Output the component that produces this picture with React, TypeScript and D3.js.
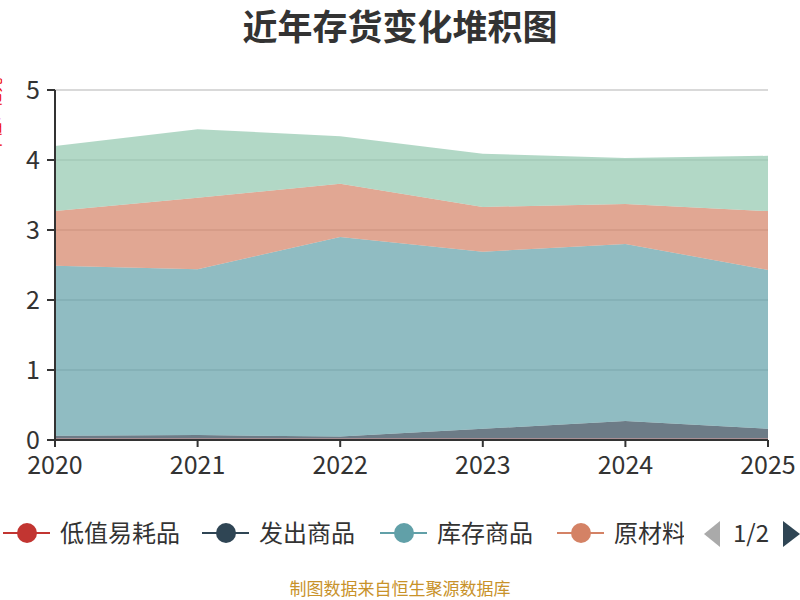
import { useEffect, useRef } from "react";
import * as d3 from "d3";

// years on the x axis
const years = ["2020", "2021", "2022", "2023", "2024", "2025"];

// series, bottom to top of the stack (亿元)
const diZhi = [0.02, 0.02, 0.02, 0.02, 0.02, 0.02];
const faChu = [0.04, 0.05, 0.03, 0.14, 0.25, 0.14];
const kuCun = [2.43, 2.37, 2.85, 2.53, 2.53, 2.27];
const yuanCai = [0.78, 1.02, 0.76, 0.64, 0.57, 0.84];
const zaiChan = [0.93, 0.98, 0.68, 0.76, 0.66, 0.79];

const seriesNames = ["低值易耗品", "发出商品", "库存商品", "原材料", "在产品"];
const seriesColors = ["#c23531", "#2f4554", "#61a0a8", "#d48265", "#91c7ae"];
const yTicks = [0, 1, 2, 3, 4, 5];

const FONT = "'Noto Sans CJK SC', 'Noto Sans', sans-serif";

const App = () => {
    const svgRef = useRef(null);

    useEffect(() => {
        if (!svgRef.current) return;
        const svg = d3.select(svgRef.current);
        svg.selectAll("*").remove();

        const left = 55, right = 768, top = 90, bottom = 440;
        const x = d3.scalePoint(years, [left, right]);
        const y = d3.scaleLinear([0, 5], [bottom, top]);

        const rows = years.map((yr, i) => ({
            year: yr,
            s0: diZhi[i], s1: faChu[i], s2: kuCun[i], s3: yuanCai[i], s4: zaiChan[i]
        }));
        const stacked = d3.stack().keys(["s0", "s1", "s2", "s3", "s4"])(rows);

        // title
        svg.append("text")
            .attr("x", 400).attr("y", 40)
            .attr("text-anchor", "middle")
            .style("font-family", FONT)
            .style("font-size", "35px")
            .style("font-weight", "bold")
            .attr("fill", "#333")
            .text("近年存货变化堆积图");

        // y axis name, mostly off the left edge
        svg.append("text")
            .attr("transform", "translate(0,115) rotate(-90)")
            .attr("text-anchor", "middle")
            .style("font-family", FONT)
            .style("font-size", "15px")
            .attr("fill", "#e00")
            .text("单位：亿元");

        // grid
        svg.append("g")
            .selectAll("line")
            .data(yTicks.slice(1))
            .join("line")
            .attr("x1", left).attr("x2", right)
            .attr("y1", d => y(d)).attr("y2", d => y(d))
            .attr("stroke", "#ccc")
            .attr("stroke-width", 1.5);

        // areas
        const area = d3.area()
            .x(d => x(d.data.year))
            .y0(d => y(d[0]))
            .y1(d => y(d[1]));
        svg.append("g")
            .selectAll("path")
            .data(stacked)
            .join("path")
            .attr("d", area)
            .attr("fill", (d, i) => seriesColors[i])
            .attr("fill-opacity", 0.7);

        // y axis
        svg.append("line")
            .attr("x1", left).attr("x2", left)
            .attr("y1", top).attr("y2", bottom)
            .attr("stroke", "#333").attr("stroke-width", 2);
        const yg = svg.append("g");
        yg.selectAll("line")
            .data(yTicks)
            .join("line")
            .attr("x1", left - 8).attr("x2", left)
            .attr("y1", d => y(d)).attr("y2", d => y(d))
            .attr("stroke", "#333").attr("stroke-width", 2);
        yg.selectAll("text")
            .data(yTicks)
            .join("text")
            .attr("x", left - 15)
            .attr("y", d => y(d))
            .attr("dy", "0.36em")
            .attr("text-anchor", "end")
            .style("font-family", FONT)
            .style("font-size", "25px")
            .attr("fill", "#333")
            .text(d => d);

        // x axis
        svg.append("line")
            .attr("x1", left).attr("x2", right)
            .attr("y1", bottom).attr("y2", bottom)
            .attr("stroke", "#333").attr("stroke-width", 2);
        const xg = svg.append("g");
        xg.selectAll("line")
            .data(years)
            .join("line")
            .attr("x1", d => x(d)).attr("x2", d => x(d))
            .attr("y1", bottom).attr("y2", bottom + 7)
            .attr("stroke", "#333").attr("stroke-width", 2);
        xg.selectAll("text")
            .data(years)
            .join("text")
            .attr("x", d => x(d))
            .attr("y", bottom + 34)
            .attr("text-anchor", "middle")
            .style("font-family", FONT)
            .style("font-size", "25px")
            .attr("fill", "#333")
            .text(d => d);

        // legend (page 1 of 2, clipped)
        svg.append("clipPath").attr("id", "legendClip")
            .append("rect").attr("x", 0).attr("y", 505).attr("width", 684).attr("height", 60);
        const legend = svg.append("g").attr("clip-path", "url(#legendClip)");
        const legendX = [3, 202, 380, 557, 735];
        const ly = 533;
        seriesNames.forEach((name, i) => {
            const g = legend.append("g").attr("transform", `translate(${legendX[i]},${ly})`);
            g.append("line")
                .attr("x1", 0).attr("x2", 47).attr("y1", 0).attr("y2", 0)
                .attr("stroke", seriesColors[i]).attr("stroke-width", 2);
            g.append("circle")
                .attr("cx", 24).attr("cy", 0).attr("r", 10)
                .attr("fill", seriesColors[i]);
            g.append("text")
                .attr("x", 57).attr("y", 0).attr("dy", "0.36em")
                .style("font-family", FONT)
                .style("font-size", "24px")
                .attr("fill", "#333")
                .text(name);
        });

        // pager
        svg.append("path")
            .attr("d", "M720,521 L704,534 L720,547 Z")
            .attr("fill", "#aaa");
        svg.append("text")
            .attr("x", 751).attr("y", ly).attr("dy", "0.36em")
            .attr("text-anchor", "middle")
            .style("font-family", FONT)
            .style("font-size", "24px")
            .attr("fill", "#333")
            .text("1/2");
        svg.append("path")
            .attr("d", "M783,521 L800,534 L783,547 Z")
            .attr("fill", "#2f4554");

        // source note
        svg.append("text")
            .attr("x", 400).attr("y", 595)
            .attr("text-anchor", "middle")
            .style("font-family", FONT)
            .style("font-size", "17px")
            .attr("fill", "#c8922a")
            .text("制图数据来自恒生聚源数据库");
    }, []);

    return (
        <svg
            ref={svgRef}
            width={800}
            height={600}
            style={{ position: "fixed", left: 0, top: 0, background: "#fff" }}
        ></svg>
    );
};

export default App;
